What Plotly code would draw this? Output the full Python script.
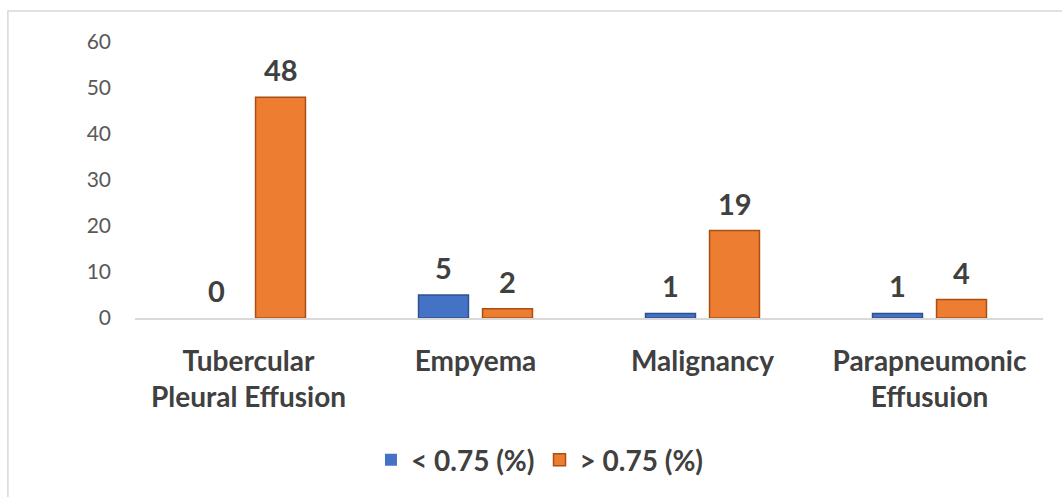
import plotly.graph_objects as go

categories = ["Tubercular<br>Pleural Effusion", "Empyema", "Malignancy", "Parapneumonic<br>Effusuion"]
low_values = [0, 5, 1, 1]
high_values = [48, 2, 19, 4]
series_names = ["< 0.75 (%)", "> 0.75 (%)"]
y_ticks = [0, 10, 20, 30, 40, 50, 60]

FONT = "Lato, 'Open Sans', sans-serif"
DARK = "#404040"
series_styles = [
    dict(color="#4472C4", edge="#2F528F"),
    dict(color="#ED7D31", edge="#A94F14"),
]

fig = go.Figure()
for name, vals, st in zip(series_names, [low_values, high_values], series_styles):
    fig.add_trace(go.Bar(
        x=categories, y=vals, name=name,
        marker=dict(
            color=st["color"],
            line=dict(color=st["edge"], width=[1.5 if v else 0 for v in vals]),
        ),
    ))

# value labels above each bar
annotations = []
for shift, vals in zip([-32, 32], [low_values, high_values]):
    for cat, v in zip(categories, vals):
        annotations.append(dict(
            x=cat, y=v, xref="x", yref="y", text=str(v), showarrow=False,
            xshift=shift, yshift=8, yanchor="bottom",
            font=dict(family=FONT, size=29, color=DARK, weight="bold"),
        ))

fig.update_layout(
    width=1062, height=497,
    margin=dict(l=135, r=19, t=42, b=177),
    paper_bgcolor="white", plot_bgcolor="white",
    barmode="group", bargap=0.436, bargroupgap=0.22,
    showlegend=True,
    legend=dict(
        orientation="h", x=0.446, y=-0.515, xanchor="center", yanchor="middle",
        font=dict(family=FONT, size=28, color=DARK, weight="bold"),
        traceorder="normal",
    ),
    xaxis=dict(
        showline=True, linecolor="#D9D9D9", linewidth=2,
        ticks="", showgrid=False, ticklabelstandoff=17,
        tickfont=dict(family=FONT, size=28, color=DARK, weight="bold"),
    ),
    yaxis=dict(
        range=[0, 60], tickvals=y_ticks, showgrid=False, zeroline=False,
        showline=False, ticks="", ticklabelstandoff=23,
        tickfont=dict(family=FONT, size=21, color="#595959"),
    ),
    annotations=annotations,
    shapes=[dict(
        type="rect", xref="paper", yref="paper",
        x0=-0.14, x1=1.05, y0=-0.68, y1=1.112,
        line=dict(color="#D9D9D9", width=1.5), fillcolor="rgba(0,0,0,0)", layer="below",
    )],
)

fig.write_html("out.html")
